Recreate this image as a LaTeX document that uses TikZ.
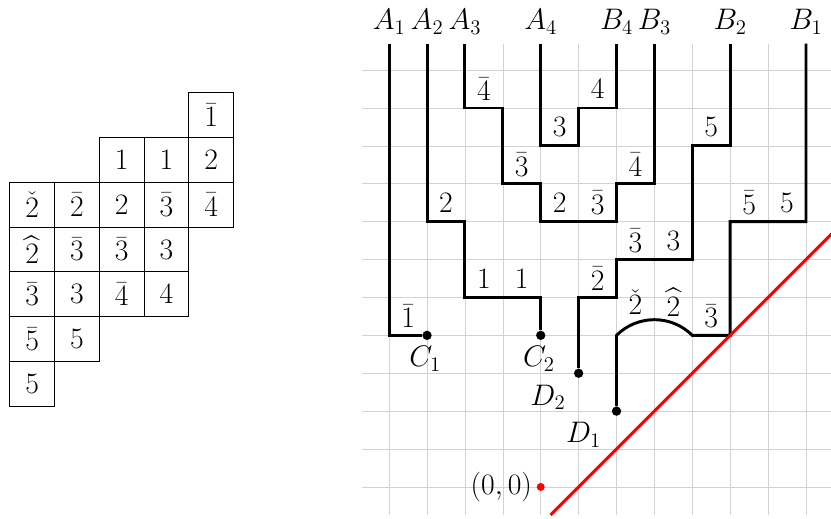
\documentclass[tikz,border=0pt]{standalone}
\usepackage{fix-cm}
\usepackage{amsmath,amssymb}
\usetikzlibrary{positioning}
\newcommand{\bigtxt}{\fontsize{22.3}{27}\selectfont}
\begin{document}
\begin{tikzpicture}[
    txt/.style={font=\bigtxt},
    cellbox/.style={draw, line width=0.6pt, minimum size=1.181cm, inner sep=0pt, font=\bigtxt},
    strand/.style={line width=2.2pt, line join=miter},
    endpt/.style={circle, fill=black, inner sep=0pt, minimum size=7pt}
  ]
  \useasboundingbox (-14.27,-0.82) rectangle (7.66,12.85);
  \foreach \r/\c/\v in {0/4/\bar{1}, 1/2/1, 1/3/1, 1/4/2,
      2/0/\check{2}, 2/1/\bar{2}, 2/2/2, 2/3/\bar{3}, 2/4/\bar{4},
      3/0/\widehat{2}, 3/1/\bar{3}, 3/2/\bar{3}, 3/3/3,
      4/0/\bar{3}, 4/1/3, 4/2/\bar{4}, 4/3/4,
      5/0/\bar{5}, 5/1/5, 6/0/5}
    \node[cellbox] (t\r\c) at ({-14.01+(\c+0.5)*1.181},{10.40-(\r+0.5)*1.181}) {$\v$};
  \draw[gray!35, line width=0.5pt] (-4.72,-0.74) grid (7.7,11.7);
  \coordinate (a1) at (-4,11.7);
  \coordinate (a2) at (-3,11.7);
  \coordinate (a3) at (-2,11.7);
  \coordinate (a4) at (0,11.7);
  \coordinate (b4) at (2,11.7);
  \coordinate (b3) at (3,11.7);
  \coordinate (b2) at (5,11.7);
  \coordinate (b1) at (7,11.7);
  \foreach \p/\t in {a1/A_1, a2/A_2, a3/A_3, a4/A_4, b4/B_4, b3/B_3, b2/B_2, b1/B_1}
    \node[txt, anchor=base] (lab\p) at ([yshift=0.36cm]\p) {$\t$};
  \node[endpt] (C1) at (-3,4) {};
  \node[endpt] (C2) at (0,4) {};
  \node[endpt] (D2) at (1,3) {};
  \node[endpt] (D1) at (2,2) {};
  \node[txt, anchor=base] (labC1) at ([shift={(-0.05,-0.83)}]C1) {$C_1$};
  \node[txt, anchor=base] (labC2) at ([shift={(-0.05,-0.83)}]C2) {$C_2$};
  \node[txt, anchor=base] (labD2) at ([shift={(-0.81,-0.84)}]D2) {$D_2$};
  \node[txt, anchor=base] (labD1) at ([shift={(-0.87,-0.84)}]D1) {$D_1$};
  \draw[strand] (a1) |- (C1);
  \draw[strand] (a2) |- (-2,7) |- (0,5) -- (C2);
  \draw[strand] (a3) |- (-1,10) |- (0,8) |- (2,7) |- (3,8) -- (b3);
  \draw[strand] (a4) |- (1,9) |- (2,10) -- (b4);
  \draw[strand] (D2) |- (2,5) |- (4,6) |- (5,9) -- (b2);
  \draw[strand] (D1) -- (2,4) to[bend left=45] (4,4) -- (5,4) |- (7,7) -- (b1);
  \foreach \x/\y/\v in {-3.5/4.5/\bar{1}, -2.5/7.5/2, -1.5/5.5/1, -0.5/5.5/1,
      -1.5/10.5/\bar{4}, -0.5/8.5/\bar{3}, 0.5/7.5/2, 1.5/7.5/\bar{3}, 2.5/8.5/\bar{4},
      0.5/9.5/3, 1.5/10.5/4, 1.5/5.5/\bar{2}, 2.5/6.5/\bar{3}, 3.5/6.5/3, 4.5/9.5/5,
      2.5/4.87/\check{2}, 3.5/4.87/\widehat{2}, 4.5/4.5/\bar{3}, 5.5/7.5/\bar{5}, 6.5/7.5/5}
    \node[txt] at (\x,\y) {$\v$};
  \coordinate (redlo) at (0.26,-0.74);
  \coordinate (redhi) at (7.7,6.7);
  \draw[red, line width=2.2pt] (redlo) -- (redhi);
  \node[endpt, fill=red, minimum size=6pt] (origin) at (0,0) {};
  \node[txt, left=3pt] (laborigin) at (origin) {$(0,0)$};
\end{tikzpicture}
\end{document}
